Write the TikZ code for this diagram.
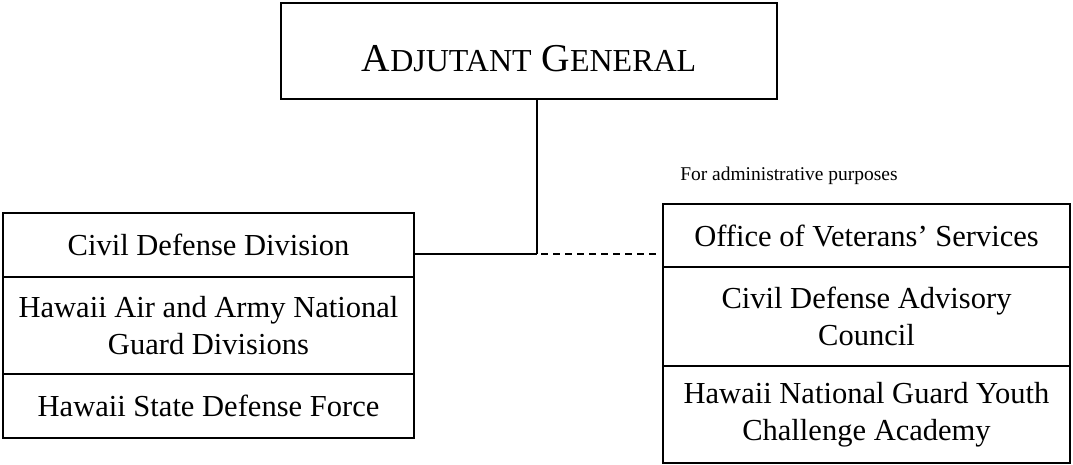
\documentclass[tikz,border=0pt]{standalone}
\usepackage{fontspec}
\setmainfont{Liberation Serif}
\newcommand\pxu{0.75pt}
\newcommand\smallcap[1]{{\fontsize{24}{24}\selectfont #1}}
\begin{document}
\begin{tikzpicture}[x=0.75pt,y=-0.75pt]
    \tikzset{unit/.style={draw,line width=1.5pt,align=center,inner sep=0pt,font=\fontsize{22.9}{27.4}\selectfont}};
    \useasboundingbox (0,0) rectangle (1073,464);
    \node[unit,minimum width=495.5*\pxu,minimum height=96*\pxu,font=\fontsize{29.6}{29.6}\selectfont,text height=30pt,text depth=0pt] (ag) at (529,51) {A\smallcap{DJUTANT} G\smallcap{ENERAL}};
    % left column
    \node[unit,minimum width=411*\pxu,minimum height=64*\pxu] (cdd) at (208.5,245) {Civil Defense Division};
    \node[unit,minimum width=411*\pxu,minimum height=97*\pxu] (ng) at (208.5,325.5) {Hawaii Air and Army National\\Guard Divisions};
    \node[unit,minimum width=411*\pxu,minimum height=64*\pxu] (sdf) at (208.5,406) {Hawaii State Defense Force};
    % right column
    \node[unit,minimum width=407*\pxu,minimum height=63*\pxu] (ovs) at (866.5,235.5) {Office of Veterans' Services};
    \node[unit,minimum width=407*\pxu,minimum height=99*\pxu] (cdac) at (866.5,316.5) {Civil Defense Advisory\\Council};
    \node[unit,minimum width=407*\pxu,minimum height=97*\pxu] (yca) at (866.5,414.5) {Hawaii National Guard Youth\\Challenge Academy};
    \node[anchor=west,inner sep=0pt,font=\fontsize{14.6}{14.6}\selectfont] (admin) at (680,176) {For administrative purposes};
    % connectors
    \coordinate (jn) at (537,253.5);
    \draw[line width=1.5pt] (ag.south -| jn) -- (jn);
    \draw[line width=1.5pt] (cdd.east |- jn) -- (jn);
    \draw[line width=1.5pt,dash pattern=on 5.25pt off 3.75pt] ([xshift=3pt]jn) -- ([xshift=-4pt]ovs.west |- jn);
\end{tikzpicture}
\end{document}
